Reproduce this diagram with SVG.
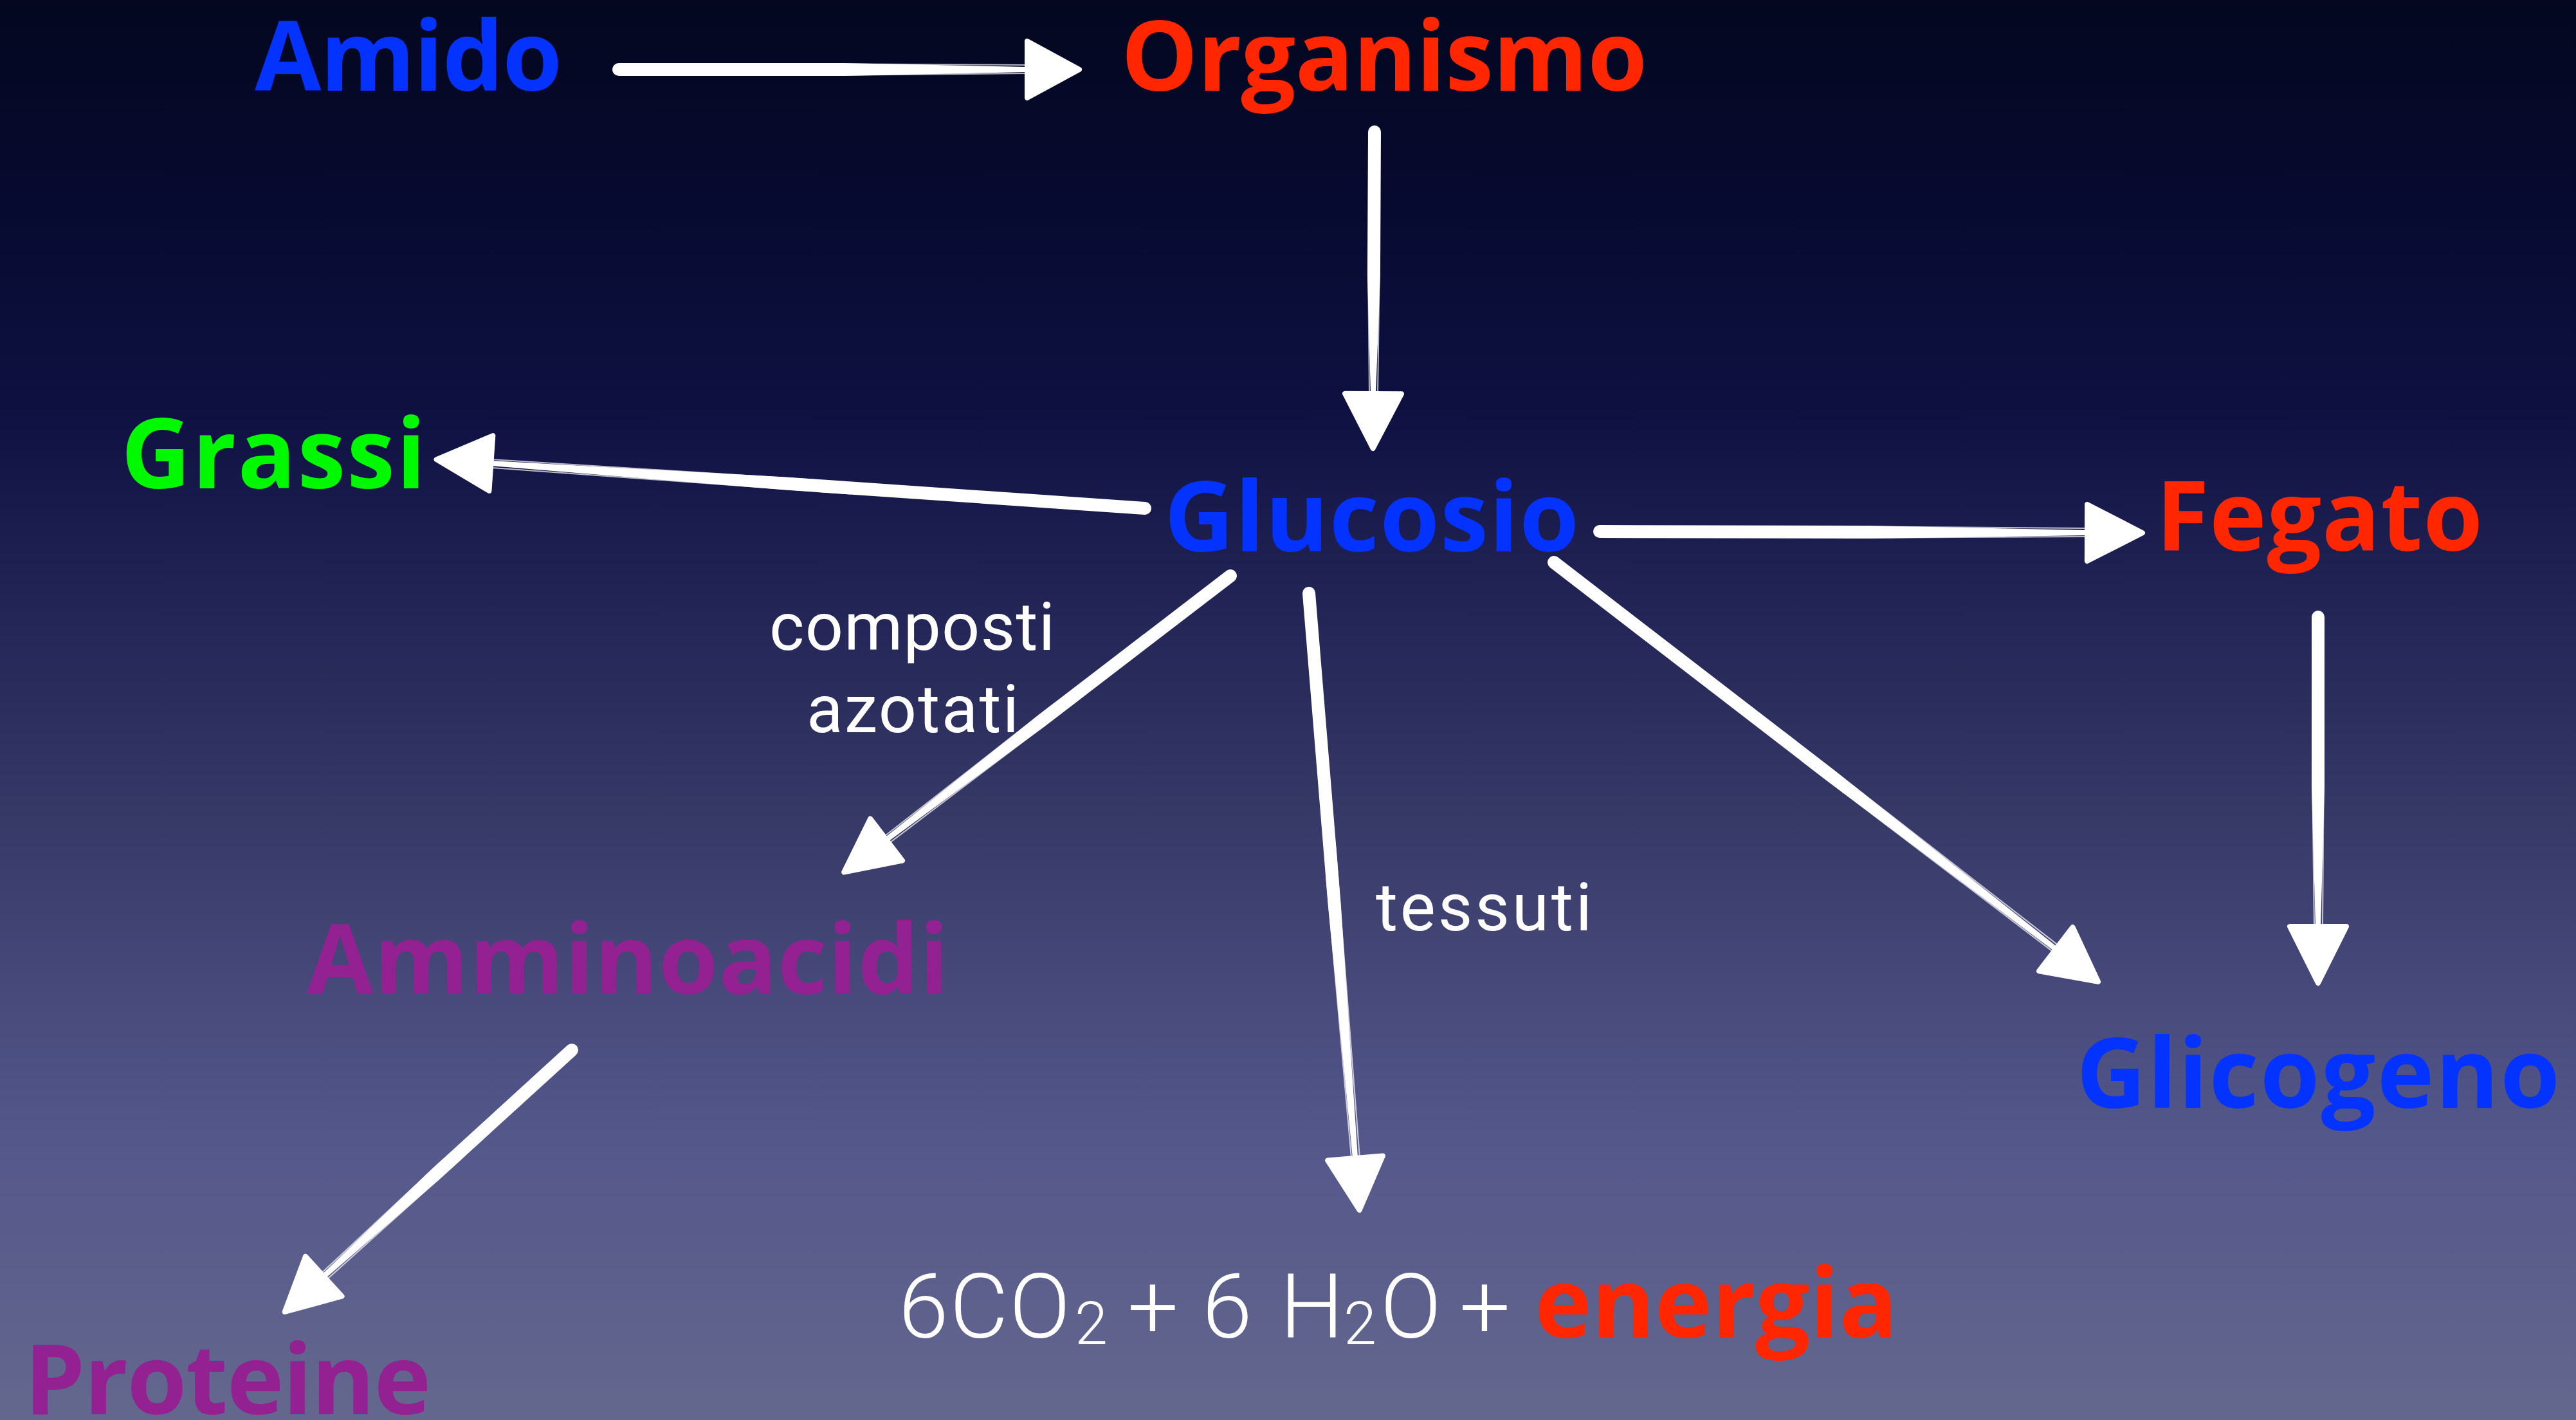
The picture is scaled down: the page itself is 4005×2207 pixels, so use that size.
<svg xmlns="http://www.w3.org/2000/svg" width="4005" height="2207" viewBox="0 0 4005 2207">
  <defs>
    <linearGradient id="bg" x1="0" y1="0" x2="0" y2="1">
      <stop offset="0" stop-color="#04071f"/>
      <stop offset="0.15" stop-color="#070a30"/>
      <stop offset="0.3" stop-color="#0f1242"/>
      <stop offset="0.4" stop-color="#1e2152"/>
      <stop offset="0.57" stop-color="#363866"/>
      <stop offset="0.8" stop-color="#54578a"/>
      <stop offset="1" stop-color="#64678d"/>
    </linearGradient>
    <style>
      .lbl { font-family: "Open Sans", "Liberation Sans", sans-serif; font-weight: 700; font-size: 150px; }
      .blue { fill: #0433ff; }
      .red { fill: #ff2600; }
      .green { fill: #00f900; }
      .purple { fill: #942192; }
      .note { font-family: Roboto, "Liberation Sans", sans-serif; font-weight: 400; font-size: 104px; fill: #ffffff; }
      .formula { font-family: Roboto, "Liberation Sans", sans-serif; font-weight: 300; font-size: 140px; fill: #ffffff; }
      .shaft { fill: #ffffff; }
      .streak { fill: none; stroke: #ffffff; stroke-width: 2; stroke-opacity: 0.7; stroke-linecap: round; }
      .head { fill: #ffffff; stroke: #ffffff; stroke-width: 8; stroke-linejoin: round; }
    </style>
  </defs>

  <rect x="0" y="0" width="4005" height="2207" fill="url(#bg)"/>

  <!-- connectors: brush-stroke arrows, each drawn along its local x axis -->
  <g id="connectors">
    <g id="amido-organismo" transform="translate(962,108)">
      <path class="shaft" d="M0,-10 L349,-10 L635,-4 L635,4 L349,10 L0,10 A10,10 0 0 1 0,-10 Z"/>
      <path class="streak" d="M286,-9 L633,-7 M318,9 L635,6"/>
      <polygon class="head" points="635,-44 716,0 635,44"/>
    </g>
    <g id="organismo-glucosio" transform="translate(2137,205) rotate(90.28)">
      <path class="shaft" d="M0,-10 L224,-10 L407,-4 L407,4 L224,10 L0,10 A10,10 0 0 1 0,-10 Z"/>
      <path class="streak" d="M183,-9 L405,-7 M204,9 L407,6"/>
      <polygon class="head" points="407,-44 492,0 407,44"/>
    </g>
    <g id="glucosio-grassi" transform="translate(1780,790) rotate(183.94)">
      <path class="shaft" d="M0,-10 L560,-10 L1019,-4 L1019,4 L560,10 L0,10 A10,10 0 0 1 0,-10 Z"/>
      <path class="streak" d="M459,-9 L1017,-7 M510,9 L1019,6"/>
      <polygon class="head" points="1019,-43 1104,0 1019,43"/>
    </g>
    <g id="glucosio-fegato" transform="translate(2487,826) rotate(0.15)">
      <path class="shaft" d="M0,-10 L417,-10 L758,-4 L758,4 L417,10 L0,10 A10,10 0 0 1 0,-10 Z"/>
      <path class="streak" d="M341,-9 L756,-7 M379,9 L758,6"/>
      <polygon class="head" points="758,-44 844,0 758,44"/>
    </g>
    <g id="fegato-glicogeno" transform="translate(3604,959) rotate(90)">
      <path class="shaft" d="M0,-10 L265,-10 L481,-4 L481,4 L265,10 L0,10 A10,10 0 0 1 0,-10 Z"/>
      <path class="streak" d="M216,-9 L479,-7 M241,9 L481,6"/>
      <polygon class="head" points="481,-44 569,0 481,44"/>
    </g>
    <g id="glucosio-amminoacidi" transform="translate(1913,895) rotate(142.53)">
      <path class="shaft" d="M0,-10 L371,-10 L674,-4 L674,4 L371,10 L0,10 A10,10 0 0 1 0,-10 Z"/>
      <path class="streak" d="M303,-9 L672,-7 M337,9 L674,6"/>
      <polygon class="head" points="674,-41 757,0 674,41"/>
    </g>
    <g id="glucosio-tessuti" transform="translate(2035,922) rotate(85.31)">
      <path class="shaft" d="M0,-10 L485,-10 L881,-4 L881,4 L485,10 L0,10 A10,10 0 0 1 0,-10 Z"/>
      <path class="streak" d="M396,-9 L879,-7 M441,9 L881,6"/>
      <polygon class="head" points="881,-43 962,0 881,43"/>
    </g>
    <g id="glucosio-glicogeno" transform="translate(2416,874) rotate(37.61)">
      <path class="shaft" d="M0,-10 L542,-10 L985,-4 L985,4 L542,10 L0,10 A10,10 0 0 1 0,-10 Z"/>
      <path class="streak" d="M443,-9 L983,-7 M493,9 L985,6"/>
      <polygon class="head" points="985,-43 1068,0 985,43"/>
    </g>
    <g id="amminoacidi-proteine" transform="translate(889,1632) rotate(137.64)">
      <path class="shaft" d="M0,-10 L287,-10 L522,-4 L522,4 L287,10 L0,10 A10,10 0 0 1 0,-10 Z"/>
      <path class="streak" d="M235,-9 L520,-7 M261,9 L522,6"/>
      <polygon class="head" points="522,-42 604,0 522,42"/>
    </g>
  </g>

  <!-- nodes -->
  <g id="amido"><text class="lbl blue" x="396" y="141" textLength="478">Amido</text></g>
  <g id="organismo"><text class="lbl red" x="1743" y="141" textLength="818">Organismo</text></g>
  <g id="grassi"><text class="lbl green" x="188" y="759" textLength="474">Grassi</text></g>
  <g id="glucosio"><text class="lbl blue" x="1810" y="857" textLength="645">Glucosio</text></g>
  <g id="fegato"><text class="lbl red" x="3352" y="856" textLength="508">Fegato</text></g>
  <g id="glicogeno"><text class="lbl blue" x="3228" y="1722" textLength="752">Glicogeno</text></g>
  <g id="amminoacidi"><text class="lbl purple" x="477" y="1545" textLength="998">Amminoacidi</text></g>
  <g id="proteine"><text class="lbl purple" x="38" y="2198" textLength="632">Proteine</text></g>

  <g id="label-composti-azotati">
    <text class="note" x="1196" y="1010" textLength="444">composti</text>
    <text class="note" x="1254" y="1138" textLength="330">azotati</text>
  </g>
  <g id="label-tessuti"><text class="note" x="2139" y="1446" textLength="336">tessuti</text></g>

  <g id="prodotti">
    <text class="formula">
      <tspan x="1397" y="2079" textLength="267">6CO</tspan>
      <tspan x="1671" y="2089" font-size="92">2</tspan>
      <tspan x="1753" y="2079">+</tspan>
      <tspan x="1869" y="2079">6</tspan>
      <tspan x="1990" y="2079">H</tspan>
      <tspan x="2089" y="2089" font-size="92">2</tspan>
      <tspan x="2146" y="2079">O</tspan>
      <tspan x="2269" y="2079">+</tspan>
    </text>
    <text class="lbl red" x="2386" y="2079" textLength="564">energia</text>
  </g>
</svg>
